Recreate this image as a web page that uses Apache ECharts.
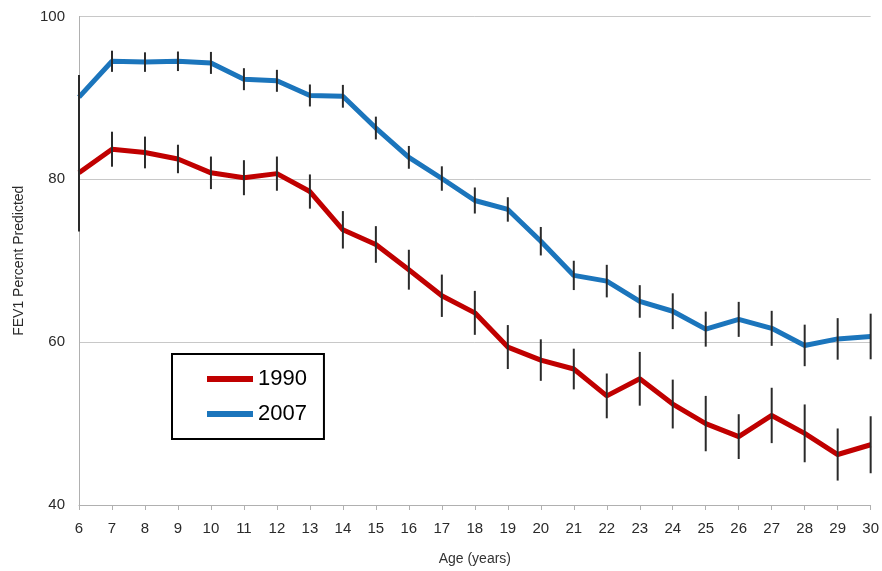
<!DOCTYPE html>
<html>
<head>
<meta charset="utf-8">
<script src="https://cdn.jsdelivr.net/npm/echarts@6/dist/echarts.min.js"></script>
<style>html,body{margin:0;padding:0;background:#fff;}#c{width:882px;height:571px;}</style>
</head>
<body>
<div id="c"></div>
<script>
var ages = [6,7,8,9,10,11,12,13,14,15,16,17,18,19,20,21,22,23,24,25,26,27,28,29,30];
var fev1990 = [80.8,83.7,83.3,82.5,80.8,80.2,80.7,78.5,73.8,72.0,68.9,65.7,63.6,59.4,57.8,56.7,53.4,55.5,52.4,50.0,48.4,51.0,48.8,46.2,47.4];
var err1990 = [7.2,2.15,1.95,1.75,2.0,2.15,2.1,2.1,2.3,2.25,2.45,2.6,2.7,2.7,2.55,2.5,2.75,3.3,3.0,3.4,2.75,3.4,3.55,3.2,3.5];
var fev2007 = [90.1,94.5,94.4,94.5,94.3,92.3,92.1,90.3,90.2,86.3,82.7,80.1,77.4,76.3,72.4,68.2,67.5,65.0,63.8,61.6,62.8,61.7,59.6,60.4,60.7];
var err2007 = [2.7,1.3,1.2,1.2,1.35,1.35,1.35,1.35,1.4,1.4,1.4,1.5,1.6,1.5,1.75,1.8,2.0,2.0,2.2,2.15,2.15,2.15,2.55,2.55,2.8];
var yTicks = [40,60,80,100];

function pairs(v){ return ages.map(function(a,i){ return [a, v[i]]; }); }
function bars(v,e){ return ages.map(function(a,i){ return [a, v[i]-e[i], v[i]+e[i]]; }); }
function renderBar(params, api){
  var lo = api.coord([api.value(0), api.value(1)]);
  var hi = api.coord([api.value(0), api.value(2)]);
  return {type:'line', shape:{x1:lo[0],y1:lo[1],x2:hi[0],y2:hi[1]}, style:{stroke:'#2a2a2a', lineWidth:2}};
}
var font = 'Liberation Sans, Arial, sans-serif';
var chart = echarts.init(document.getElementById('c'));
chart.setOption({
  animation:false,
  backgroundColor:'#fff',
  grid:{left:79, right:10, top:16.5, bottom:65},
  legend:{
    orient:'vertical', left:172, top:354,
    data:['1990','2007'],
    icon:'rect', itemWidth:46, itemHeight:6, itemGap:13,
    borderColor:'#000', borderWidth:2, padding:[14,17,14,35],
    textStyle:{fontFamily:font, fontSize:22, color:'#000'}
  },
  xAxis:{
    type:'value', min:6, max:30, interval:1,
    name:'Age (years)', nameLocation:'middle', nameGap:47,
    nameTextStyle:{fontFamily:font, fontSize:14, color:'#333'},
    axisLine:{show:true, lineStyle:{color:'#b0b0b0', width:1}},
    axisTick:{show:true, length:5, lineStyle:{color:'#b0b0b0'}},
    axisLabel:{fontFamily:font, fontSize:15, color:'#2a2a2a', margin:16},
    splitLine:{show:false}
  },
  yAxis:{
    type:'value', min:yTicks[0], max:yTicks[yTicks.length-1], interval:20,
    name:'FEV1 Percent Predicted', nameLocation:'middle', nameGap:53,
    nameTextStyle:{fontFamily:font, fontSize:14, color:'#2a2a2a'},
    axisLine:{show:true, lineStyle:{color:'#b0b0b0', width:1}},
    axisTick:{show:false},
    axisLabel:{fontFamily:font, fontSize:15, color:'#2a2a2a', margin:14},
    splitLine:{show:true, lineStyle:{color:'#c8c8c8', width:1}}
  },
  series:[
    {name:'1990', type:'line', data:pairs(fev1990), symbol:'none', lineStyle:{color:'#c00000', width:5}, itemStyle:{color:'#c00000'}, z:2},
    {name:'2007', type:'line', data:pairs(fev2007), symbol:'none', lineStyle:{color:'#1b75bc', width:5}, itemStyle:{color:'#1b75bc'}, z:2},
    {type:'custom', data:bars(fev1990,err1990), renderItem:renderBar, z:5, encode:{x:0,y:[1,2]}},
    {type:'custom', data:bars(fev2007,err2007), renderItem:renderBar, z:5, encode:{x:0,y:[1,2]}}
  ]
});
</script>
</body>
</html>
